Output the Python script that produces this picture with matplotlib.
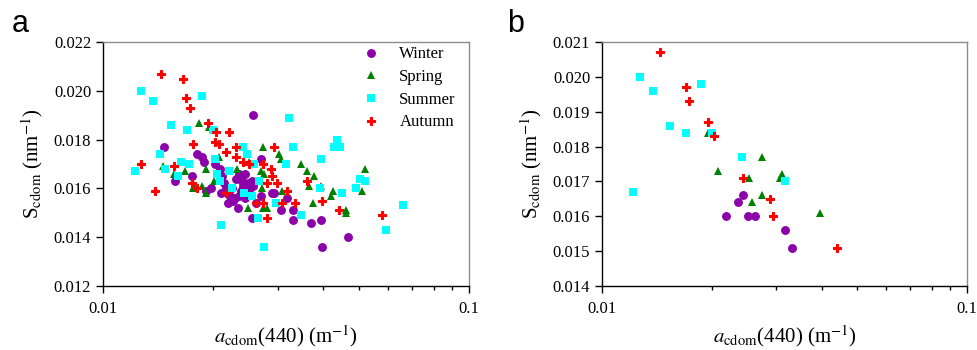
import numpy as np
import matplotlib
matplotlib.use("Agg")
import matplotlib.pyplot as plt

plt.rcParams['font.family'] = ['Liberation Serif', 'DejaVu Serif']
plt.rcParams['mathtext.fontset'] = 'stix'

seasons = ["Winter", "Spring", "Summer", "Autumn"]

# panel a: all samples
winter_a_x = [0.0147, 0.0157, 0.0175, 0.0181, 0.0186, 0.0189, 0.0191, 0.0197, 0.0202, 0.0209,
              0.0210, 0.0212, 0.0214, 0.0217, 0.0219, 0.0223, 0.0229, 0.0234, 0.0236, 0.0238,
              0.0240, 0.0242, 0.0244, 0.0247, 0.0249, 0.0252, 0.0255, 0.0257, 0.0256, 0.0257,
              0.0262, 0.0271, 0.0270, 0.0289, 0.0293, 0.0307, 0.0319, 0.0331, 0.0331, 0.0371,
              0.0395, 0.0396, 0.0468, 0.0225, 0.0231, 0.0236, 0.0244, 0.0227]
winter_a_y = [0.0177, 0.0163, 0.0165, 0.0174, 0.0173, 0.0171, 0.0159, 0.0160, 0.0170, 0.0168,
              0.0158, 0.0165, 0.0162, 0.0160, 0.0154, 0.0157, 0.0156, 0.0152, 0.0166, 0.0159,
              0.0163, 0.0161, 0.0166, 0.0158, 0.0162, 0.0160, 0.0163, 0.0161, 0.0148, 0.0190,
              0.0154, 0.0157, 0.0172, 0.0158, 0.0158, 0.0151, 0.0156, 0.0151, 0.0147, 0.0146,
              0.0147, 0.0136, 0.0140, 0.0160, 0.0164, 0.0157, 0.0156, 0.0155]

spring_a_x = [0.0146, 0.0156, 0.0168, 0.0176, 0.0177, 0.0183, 0.0187, 0.0191, 0.0191, 0.0195,
              0.0201, 0.0207, 0.0233, 0.0249, 0.0251, 0.0270, 0.0272, 0.0274, 0.0274, 0.0281,
              0.0276, 0.0302, 0.0306, 0.0309, 0.0347, 0.0360, 0.0366, 0.0375, 0.0378, 0.0395,
              0.0420, 0.0424, 0.0460, 0.0460, 0.0509, 0.0520]
spring_a_y = [0.0169, 0.0166, 0.0167, 0.0160, 0.0161, 0.0187, 0.0161, 0.0158, 0.0168, 0.0185,
              0.0163, 0.0173, 0.0168, 0.0152, 0.0171, 0.0167, 0.0160, 0.0177, 0.0152, 0.0152,
              0.0166, 0.0174, 0.0172, 0.0159, 0.0170, 0.0167, 0.0161, 0.0154, 0.0165, 0.0161,
              0.0157, 0.0159, 0.0151, 0.0150, 0.0159, 0.0168]

summer_a_x = [0.0122, 0.0127, 0.0137, 0.0143, 0.0148, 0.0153, 0.0160, 0.0163, 0.0170, 0.0172,
              0.0187, 0.0200, 0.0202, 0.0205, 0.0209, 0.0210, 0.0221, 0.0225, 0.0242, 0.0247,
              0.0243, 0.0255, 0.0258, 0.0265, 0.0267, 0.0276, 0.0297, 0.0317, 0.0323, 0.0331,
              0.0347, 0.0393, 0.0391, 0.0428, 0.0436, 0.0444, 0.0450, 0.0490, 0.0503, 0.0520,
              0.0593, 0.0661]
summer_a_y = [0.0167, 0.0200, 0.0196, 0.0174, 0.0168, 0.0186, 0.0165, 0.0171, 0.0184, 0.0170,
              0.0198, 0.0184, 0.0172, 0.0166, 0.0163, 0.0145, 0.0167, 0.0160, 0.0177, 0.0174,
              0.0158, 0.0157, 0.0170, 0.0148, 0.0163, 0.0136, 0.0154, 0.0170, 0.0189, 0.0177,
              0.0149, 0.0172, 0.0160, 0.0177, 0.0180, 0.0177, 0.0158, 0.0160, 0.0164, 0.0163,
              0.0143, 0.0153]

autumn_a_x = [0.0127, 0.0139, 0.0144, 0.0156, 0.0165, 0.0169, 0.0173, 0.0176, 0.0175, 0.0181,
              0.0194, 0.0202, 0.0204, 0.0207, 0.0217, 0.0221, 0.0217, 0.0231, 0.0231, 0.0242,
              0.0251, 0.0262, 0.0273, 0.0274, 0.0280, 0.0280, 0.0287, 0.0289, 0.0293, 0.0299,
              0.0309, 0.0319, 0.0334, 0.0360, 0.0396, 0.0440, 0.0579]
autumn_a_y = [0.0170, 0.0159, 0.0207, 0.0169, 0.0205, 0.0197, 0.0193, 0.0178, 0.0162, 0.0160,
              0.0187, 0.0179, 0.0183, 0.0178, 0.0175, 0.0183, 0.0158, 0.0177, 0.0173, 0.0171,
              0.0170, 0.0154, 0.0154, 0.0170, 0.0148, 0.0162, 0.0168, 0.0165, 0.0177, 0.0162,
              0.0154, 0.0159, 0.0154, 0.0163, 0.0155, 0.0151, 0.0149]

# panel b: station means
winter_b_x = [0.0218, 0.0236, 0.0244, 0.0251, 0.0262, 0.0318, 0.0331]
winter_b_y = [0.0160, 0.0164, 0.0166, 0.0160, 0.0160, 0.0156, 0.0151]

spring_b_x = [0.0195, 0.0208, 0.0252, 0.0275, 0.0258, 0.0275, 0.0307, 0.0311, 0.0395]
spring_b_y = [0.0184, 0.0173, 0.0171, 0.0177, 0.0164, 0.0166, 0.0171, 0.0172, 0.0161]

summer_b_x = [0.0127, 0.0138, 0.0154, 0.0170, 0.0187, 0.0200, 0.0242, 0.0317, 0.0122]
summer_b_y = [0.0200, 0.0196, 0.0186, 0.0184, 0.0198, 0.0184, 0.0177, 0.0170, 0.0167]

autumn_b_x = [0.0144, 0.0170, 0.0173, 0.0195, 0.0203, 0.0243, 0.0288, 0.0295, 0.0440]
autumn_b_y = [0.0207, 0.0197, 0.0193, 0.0187, 0.0183, 0.0171, 0.0165, 0.0160, 0.0151]

styles = {
    "Winter": dict(marker='o', color='#8B00A8', ms=6.4, mew=0),
    "Spring": dict(marker='^', color='#008000', ms=6.4, mew=0),
    "Summer": dict(marker='s', color='#00FFFF', ms=5.6, mew=0),
    "Autumn": dict(marker='P', color='#FF0000', ms=5.4, mew=0.8),
}


def draw_panel(ax, data, ylim, yticks):
    for name, (xs, ys) in zip(seasons, data):
        st = styles[name]
        ax.plot(xs, ys, linestyle='none', marker=st['marker'], color=st['color'],
                markersize=st['ms'], markeredgewidth=st['mew'], label=name)
    ax.set_xscale('log')
    ax.set_xlim(0.01, 0.1)
    ax.set_ylim(*ylim)
    ax.set_xticks([0.01, 0.1])
    ax.set_xticklabels(['0.01', '0.1'])
    ax.set_yticks(yticks)
    ax.set_yticklabels([f"{v:.3f}" for v in yticks])
    ax.tick_params(axis='both', which='major', direction='out', length=5, width=1,
                   labelsize=12, top=False, right=False)
    ax.tick_params(axis='x', which='minor', direction='out', length=3, width=1,
                   top=False, labelbottom=False)
    ax.xaxis.set_tick_params(pad=6)
    for side in ['left', 'bottom']:
        ax.spines[side].set_color('black')
        ax.spines[side].set_linewidth(1)
    for side in ['top', 'right']:
        ax.spines[side].set_color('#8c8c8c')
        ax.spines[side].set_linewidth(1)
    ax.set_xlabel(r'$a_{\rm cdom}$(440) (m$^{-1}$)', fontsize=15, labelpad=4)
    ax.set_ylabel(r'S$_{\rm cdom}$ (nm$^{-1}$)', fontsize=15, labelpad=6)


fig = plt.figure(figsize=(9.78, 3.5), dpi=100)
ax1 = fig.add_axes([0.1053, 0.183, 0.3743, 0.697])
ax2 = fig.add_axes([0.6155, 0.183, 0.3733, 0.697])

draw_panel(ax1, [(winter_a_x, winter_a_y), (spring_a_x, spring_a_y),
                 (summer_a_x, summer_a_y), (autumn_a_x, autumn_a_y)],
           (0.012, 0.022), np.arange(0.012, 0.0221, 0.002))
draw_panel(ax2, [(winter_b_x, winter_b_y), (spring_b_x, spring_b_y),
                 (summer_b_x, summer_b_y), (autumn_b_x, autumn_b_y)],
           (0.014, 0.021), np.arange(0.014, 0.0211, 0.001))

ax1.legend(loc='upper left', bbox_to_anchor=(0.673, 1.03), frameon=False, fontsize=12,
           handlelength=1.2, handletextpad=1.1, labelspacing=0.4, borderaxespad=0.3)

fig.text(0.012, 0.909, 'a', fontsize=22, family='Liberation Sans', va='baseline')
fig.text(0.518, 0.909, 'b', fontsize=22, family='Liberation Sans', va='baseline')

fig.savefig('out.png', dpi=100)
